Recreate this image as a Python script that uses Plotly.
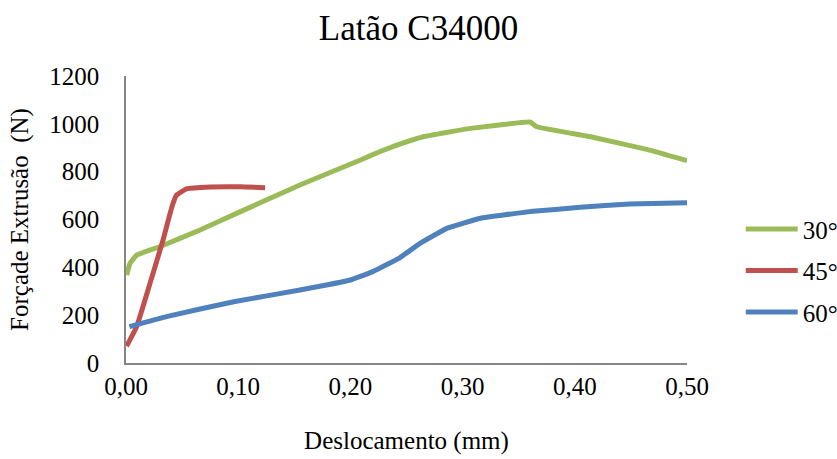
import plotly.graph_objects as go

# Displacement (mm) and extrusion force (N) for each die angle
x_30 = [0.0006, 0.0036, 0.0095, 0.030, 0.066, 0.102, 0.155, 0.209, 0.226, 0.244, 0.265,
        0.307, 0.351, 0.360, 0.366, 0.417, 0.464, 0.500]
y_30 = [368, 417, 451, 486, 556, 633, 744, 849, 883, 915, 946,
        981, 1005, 1008, 988, 943, 893, 846]

x_45 = [0.0006, 0.0095, 0.0214, 0.033, 0.041, 0.045, 0.054, 0.075, 0.102, 0.124]
y_45 = [71, 152, 333, 514, 654, 702, 728, 736, 737, 733]

x_60 = [0.003, 0.036, 0.096, 0.155, 0.200, 0.220, 0.244, 0.262, 0.286, 0.316,
        0.360, 0.405, 0.449, 0.500]
y_60 = [152, 194, 256, 305, 347, 382, 440, 500, 563, 605,
        633, 651, 665, 670]

series = [
    ("30°", x_30, y_30, "#9BBB59"),
    ("45°", x_45, y_45, "#C0504D"),
    ("60°", x_60, y_60, "#4F81BD"),
]

x_ticks = [0.0, 0.1, 0.2, 0.3, 0.4, 0.5]
y_ticks = [0, 200, 400, 600, 800, 1000, 1200]

FONT = "Liberation Serif, Times New Roman, serif"

fig = go.Figure()
for name, xs, ys, color in series:
    fig.add_trace(go.Scatter(
        x=xs, y=ys, name=name, mode="lines", legendgroup=name,
        line=dict(color=color, width=5, shape="spline", smoothing=0.3),
    ))

fig.update_layout(
    width=837, height=459,
    margin=dict(l=126, r=150, t=76, b=96, autoexpand=False),
    paper_bgcolor="white", plot_bgcolor="white",
    separators=",.",
    font=dict(family=FONT, color="black", size=25),
    title=dict(text="Latão C34000", x=0.5, xanchor="center", y=0.939, yanchor="middle",
               font=dict(family=FONT, size=35, color="black")),
    legend=dict(xref="container", yref="container", x=0.885, xanchor="left",
                y=0.41, yanchor="middle",
                font=dict(family=FONT, size=25, color="black"),
                traceorder="grouped", tracegroupgap=6, itemwidth=52,
                bgcolor="rgba(0,0,0,0)"),
    xaxis=dict(
        range=[0, 0.5], tickvals=x_ticks, tickformat=".2f",
        showline=True, linecolor="#868686", linewidth=1.5,
        showgrid=False, zeroline=False, ticks="", ticklen=0,
        title=dict(text="Deslocamento (mm)", font=dict(family=FONT, size=25), standoff=33),
        tickfont=dict(family=FONT, size=25),
    ),
    yaxis=dict(
        range=[0, 1200], tickvals=y_ticks,
        showline=True, linecolor="#868686", linewidth=1.5,
        showgrid=False, zeroline=False, ticks="", ticklen=0, ticklabelstandoff=20,
        title=dict(text="Forçade Extrusão\u00a0 (N)", font=dict(family=FONT, size=25), standoff=14),
        tickfont=dict(family=FONT, size=25),
    ),
)

fig.write_html("out.html")
